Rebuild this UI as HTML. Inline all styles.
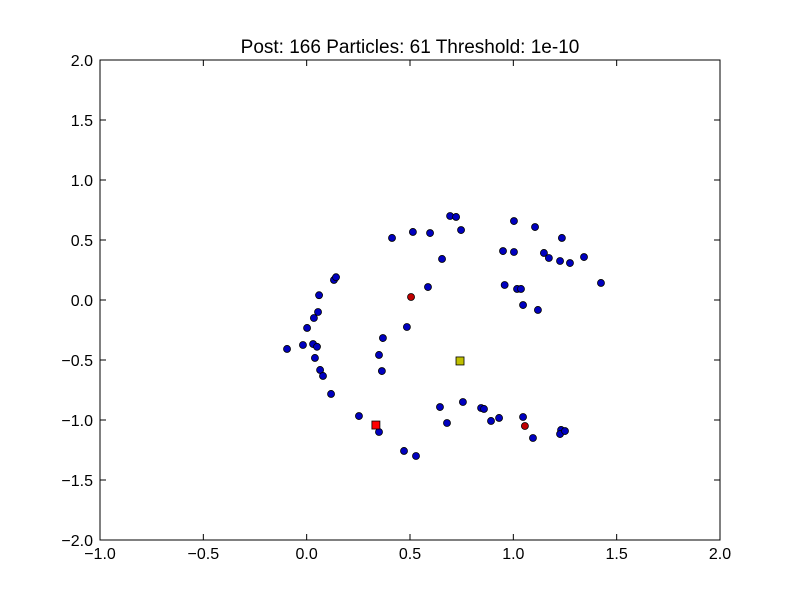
<!DOCTYPE html>
<html><head><meta charset="utf-8"><style>
body{margin:0;background:#fff;}
svg text{font-family:"Liberation Sans",sans-serif;}
</style></head><body>
<svg id="chart" width="800" height="600" xmlns="http://www.w3.org/2000/svg">
<rect width="800" height="600" fill="#fff"/>
<text x="410" y="53" font-size="19" text-anchor="middle">Post: 166 Particles: 61 Threshold: 1e-10</text>
<g id="ticks"></g>
<g id="marks"></g>
<rect x="100" y="60" width="620" height="480" fill="none" stroke="#000" stroke-width="1"/>
</svg>
<script>
const xTicks=[-1.0,-0.5,0.0,0.5,1.0,1.5,2.0];
const yTicks=[-2.0,-1.5,-1.0,-0.5,0.0,0.5,1.0,1.5,2.0];
const particleX=[-0.095,-0.018,0.031,0.05,0.04,0.002,0.035,0.055,0.06,0.132,0.142,0.065,0.079,0.118,0.253,0.35,0.471,0.529,0.369,0.35,0.364,0.485,0.413,0.514,0.597,0.587,0.655,0.694,0.723,0.747,1.003,1.105,0.95,1.003,0.958,1.018,1.037,1.047,1.119,1.148,1.172,1.226,1.235,1.274,1.342,1.424,0.645,0.679,0.756,0.844,0.858,0.892,0.931,1.047,1.095,1.231,1.226,1.25];
const particleY=[-0.408,-0.375,-0.367,-0.39,-0.483,-0.233,-0.15,-0.1,0.04,0.167,0.19,-0.583,-0.633,-0.783,-0.967,-1.1,-1.258,-1.3,-0.317,-0.458,-0.592,-0.225,0.517,0.567,0.558,0.108,0.342,0.7,0.692,0.583,0.658,0.608,0.408,0.4,0.125,0.092,0.092,-0.042,-0.083,0.392,0.35,0.325,0.517,0.308,0.358,0.142,-0.892,-1.025,-0.85,-0.9,-0.908,-1.008,-0.983,-0.975,-1.15,-1.083,-1.117,-1.092];
const redX=[0.505,1.056];
const redY=[0.025,-1.05];
const squareX=[0.335,0.742];
const squareY=[-1.042,-0.508];
const squareColors=["#ff0000","#bfbf00"];

const NS="http://www.w3.org/2000/svg";
const sx=v=>100+(v+1)/3*620;
const sy=v=>300-v*120;
const fmt=v=>v.toFixed(1).replace('-','\u2212');
function mk(tag,attrs,parent){const e=document.createElementNS(NS,tag);for(const k in attrs)e.setAttribute(k,attrs[k]);parent.appendChild(e);return e;}
const tg=document.getElementById('ticks'), mg=document.getElementById('marks');
xTicks.forEach(v=>{
  const x=sx(v);
  let l=mk('line',{x1:x,x2:x,y1:540,y2:534,stroke:'#000'},tg);
  
  
  let l2=mk('line',{x1:x,x2:x,y1:60,y2:66,stroke:'#000'},tg);
  
  
  let t=mk('text',{x:x,y:559,'font-size':16,'text-anchor':'middle'},tg);
  t.textContent=fmt(v);
  
  
});
yTicks.forEach(v=>{
  const y=sy(v);
  let l=mk('line',{x1:100,x2:106,y1:y,y2:y,stroke:'#000'},tg);
  
  
  let l2=mk('line',{x1:714,x2:720,y1:y,y2:y,stroke:'#000'},tg);
  
  
  let t=mk('text',{x:93,y:y+6,'font-size':16,'text-anchor':'end'},tg);
  t.textContent=fmt(v);
  
  
});
particleX.forEach((v,i)=>{
  let c=mk('circle',{cx:sx(v),cy:sy(particleY[i]),r:3.5,fill:'#0000bf',stroke:'#000','stroke-width':0.8},mg);
  
  
});
redX.forEach((v,i)=>{
  let c=mk('circle',{cx:sx(v),cy:sy(redY[i]),r:3.5,fill:'#bf0000',stroke:'#000','stroke-width':0.8},mg);
  
  
});
squareX.forEach((v,i)=>{
  let r=mk('rect',{x:sx(v)-4,y:sy(squareY[i])-4,width:8,height:8,fill:squareColors[i],stroke:'#000','stroke-width':0.8},mg);
  
  
});
</script>
</body></html>
